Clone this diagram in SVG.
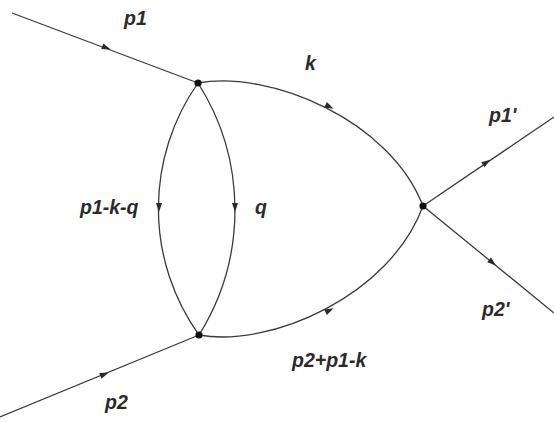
<svg xmlns="http://www.w3.org/2000/svg" width="554" height="422" viewBox="0 0 554 422">
<style>
.ln{fill:none;stroke:#3a3a3a;stroke-width:1.3}
.ar{fill:#2a2a2a}
.v{fill:#111}
text{font-family:"Liberation Sans",Arial,sans-serif;font-weight:bold;font-style:italic;font-size:19.5px;fill:#2a2a2a}
</style>
<defs>
<path id="arr" d="M-5,-3 L4,0 L-5,3 Z"/>
</defs>
<rect width="554" height="422" fill="#fff"/>
<g id="connectors">
<path class="ln" d="M12,13 L198,83"/>
<path class="ln" d="M0,417 L199,335"/>
<path class="ln" d="M423,206 L554,117"/>
<path class="ln" d="M423,206 L554,313"/>
<path class="ln" d="M198,83 C270,70 390,120 423,206"/>
<path class="ln" d="M199,335 C270,348 390,296 423,206"/>
<path class="ln" d="M198,83 A218 218 0 0 0 199,335"/>
<path class="ln" d="M198,83 A236 236 0 0 1 199,335"/>
<use href="#arr" class="ar" transform="translate(107,48) rotate(20.6)"/>
<use href="#arr" class="ar" transform="translate(105,374) rotate(-22)"/>
<use href="#arr" class="ar" transform="translate(487,162) rotate(-34)"/>
<use href="#arr" class="ar" transform="translate(493,263) rotate(39)"/>
<use href="#arr" class="ar" transform="translate(330,107) rotate(27)"/>
<use href="#arr" class="ar" transform="translate(330,310) rotate(-27)"/>
<use href="#arr" class="ar" transform="translate(159,208) rotate(90)"/>
<use href="#arr" class="ar" transform="translate(235,208) rotate(90)"/>
</g>
<g id="vertexA"><circle class="v" cx="198" cy="83" r="3.6"/></g>
<g id="vertexB"><circle class="v" cx="199" cy="335" r="3.6"/></g>
<g id="vertexC"><circle class="v" cx="423" cy="206" r="3.6"/></g>
<g id="labels">
<text x="124" y="25">p1</text>
<text x="305" y="70">k</text>
<text x="489" y="122">p1'</text>
<text x="80" y="214">p1-k-q</text>
<text x="255" y="214">q</text>
<text x="482" y="316">p2'</text>
<text x="292" y="367">p2+p1-k</text>
<text x="105" y="409">p2</text>
</g>
</svg>
